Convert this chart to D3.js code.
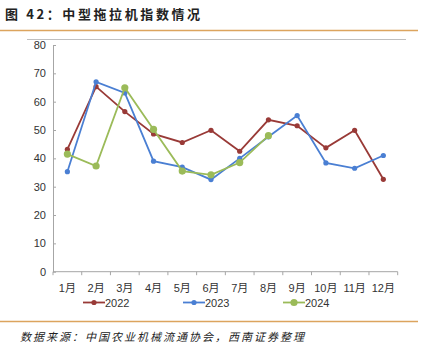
<!DOCTYPE html>
<html>
<head>
<meta charset="utf-8">
<script src="https://cdn.jsdelivr.net/npm/d3@7"></script>
<style>
  body { margin: 0; background: #fff; }
  svg { display: block; font-family: "Liberation Sans", Arial, sans-serif; }
</style>
</head>
<body>
<div id="chart"></div>
<script>
// DATA //
const months = ["1月", "2月", "3月", "4月", "5月", "6月", "7月", "8月", "9月", "10月", "11月", "12月"];
const v2022 = [43.2, 65.3, 56.5, 48.6, 45.6, 49.9, 42.5, 53.6, 51.5, 43.7, 49.9, 32.6];
const v2023 = [35.3, 67, 63.1, 39, 36.9, 32.5, 40, 47.6, 55.1, 38.4, 36.5, 41];
const v2024 = [41.5, 37.3, 64.9, 50.2, 35.5, 34.2, 38.5, 48];
const yTicks = [0, 10, 20, 30, 40, 50, 60, 70, 80];
const seriesNames = ["2022", "2023", "2024"];
const colors = ["#993a37", "#4a7fd3", "#9bbb59"];
const radius = [2.6, 2.6, 3.6];

const W = 424, H = 354;
const svg = d3.select("#chart").append("svg").attr("width", W).attr("height", H);

// header / footer //
svg.append("text")
  .attr("x", 5).attr("y", 19)
  .style("font-family", "'Noto Sans CJK SC', sans-serif")
  .style("font-weight", "bold").style("font-size", "13px")
  .style("letter-spacing", "2.6px")
  .attr("fill", "#222")
  .text("图 42：中型拖拉机指数情况");

svg.append("line").attr("x1", 0).attr("x2", 418).attr("y1", 30.5).attr("y2", 30.5)
  .attr("stroke", "#dca45e").attr("stroke-width", 1.5);
svg.append("line").attr("x1", 27).attr("x2", 406).attr("y1", 39.5).attr("y2", 39.5)
  .attr("stroke", "#bfbfbf").attr("stroke-width", 1);

svg.append("line").attr("x1", 0).attr("x2", 418).attr("y1", 321.5).attr("y2", 321.5)
  .attr("stroke", "#dca45e").attr("stroke-width", 1.5);
svg.append("text")
  .attr("x", 20).attr("y", 341)
  .style("font-family", "'Noto Sans CJK SC', sans-serif")
  .style("font-style", "italic").style("font-size", "11px")
  .style("letter-spacing", "2px")
  .attr("fill", "#222")
  .text("数据来源：中国农业机械流通协会，西南证券整理");

// SCALES //
const x = d3.scaleBand().domain(months).range([53, 397.7]);
const y = d3.scaleLinear().domain([0, 80]).range([271.7, 45]);

// y axis
const yAxis = svg.append("g")
  .attr("transform", "translate(53,0)")
  .call(d3.axisLeft(y).tickValues(yTicks).tickSizeInner(-3).tickSizeOuter(0).tickPadding(7));
yAxis.select(".domain").attr("stroke", "#a6a6a6");
yAxis.selectAll(".tick line").attr("stroke", "#a6a6a6");
yAxis.selectAll("text").style("font-size", "11px").attr("fill", "#333");

// x axis with ticks on band boundaries
const xAxis = svg.append("g")
  .attr("transform", "translate(0,271.7)");
xAxis.append("line")
  .attr("x1", x.range()[0]).attr("x2", x.range()[1])
  .attr("stroke", "#a6a6a6");
xAxis.selectAll(".bt")
  .data(months.concat(["end"]))
  .enter().append("line")
  .attr("x1", (d, i) => 53 + i * x.step())
  .attr("x2", (d, i) => 53 + i * x.step())
  .attr("y1", 0).attr("y2", 3.5)
  .attr("stroke", "#a6a6a6");
xAxis.selectAll(".lbl")
  .data(months)
  .enter().append("text")
  .attr("x", d => x(d) + x.bandwidth() / 2)
  .attr("y", 20)
  .attr("text-anchor", "middle")
  .style("font-size", "11px")
  .style("font-family", "'Liberation Sans', 'Noto Sans CJK SC', sans-serif")
  .attr("fill", "#333")
  .text(d => d);

// LINES //
const allSeries = [v2022, v2023, v2024];
const line = d3.line()
  .x((d, i) => x(months[i]) + x.bandwidth() / 2)
  .y(d => y(d));

allSeries.forEach((vals, s) => {
  const g = svg.append("g");
  g.append("path")
    .datum(vals)
    .attr("d", line)
    .attr("fill", "none")
    .attr("stroke", colors[s])
    .attr("stroke-width", 1.8);
  g.selectAll("circle")
    .data(vals)
    .enter().append("circle")
    .attr("cx", (d, i) => x(months[i]) + x.bandwidth() / 2)
    .attr("cy", d => y(d))
    .attr("r", radius[s])
    .attr("fill", colors[s]);
});

// LEGEND //
const legendX = [83, 183, 283];
seriesNames.forEach((name, s) => {
  const g = svg.append("g").attr("transform", `translate(${legendX[s]},302.5)`);
  g.append("line").attr("x1", 0).attr("x2", 22).attr("stroke", colors[s]).attr("stroke-width", 1.8);
  g.append("circle").attr("cx", 11).attr("r", radius[s]).attr("fill", colors[s]);
  g.append("text").attr("x", 22).attr("y", 4).style("font-size", "11px").attr("fill", "#333").text(name);
});
</script>
</body>
</html>
